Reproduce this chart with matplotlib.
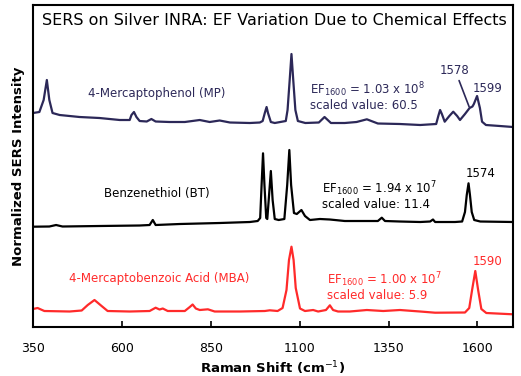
import matplotlib
matplotlib.use("Agg")
import matplotlib.pyplot as plt
import numpy as np
###############################################################################
""" Datos (leidos del grafico) """
###############################################################################
# 4-Mercaptophenol (MP)
mp_shift = [350, 368, 380, 389, 396, 405, 425, 481, 537, 594, 622, 627, 634,
            641, 650, 670, 683, 695, 734, 777, 819, 847, 875, 904, 960, 988,
            996, 1002, 1007, 1011, 1019, 1030, 1061, 1066, 1072, 1077, 1082,
            1088, 1095, 1116, 1154, 1170, 1188, 1227, 1260, 1289, 1320, 1382,
            1439, 1484, 1490, 1495, 1500, 1508, 1521, 1532, 1543, 1551, 1565,
            1578, 1586, 1590, 1599, 1607, 1613, 1624, 1663, 1700]
mp_int = [17, 18, 30, 50, 30, 17, 15, 13, 12, 10, 10, 15, 18,
          13, 9, 8.5, 11, 8.5, 8, 8, 10, 8, 9.5, 7.5, 7, 7.5,
          9, 17, 23, 17, 8, 7, 9, 20, 50, 76, 50,
          20, 9, 7, 7.5, 13, 7, 7, 8, 10.7, 6.5, 6,
          5, 6, 14, 20, 16, 8.3, 14, 18.3, 14, 10, 16,
          22, 23.5, 26, 34, 22, 8.3, 5, 4, 3]

# Benzenethiol (BT)
bt_shift = [350, 396, 415, 433, 537, 650, 678, 687, 695, 763, 875, 960, 982,
            989, 993, 997, 1001, 1006, 1009, 1013, 1019, 1024, 1030, 1041,
            1057, 1065, 1071, 1076, 1084, 1092, 1105, 1115, 1129, 1157, 1185,
            1227, 1270, 1320, 1331, 1340, 1382, 1439, 1467, 1475, 1481, 1537,
            1557, 1565, 1570, 1575, 1579, 1584, 1591, 1608, 1700]
bt_int = [3.3, 3.5, 5, 3.5, 4, 4.5, 5, 10, 5, 6, 7, 8, 9,
          12, 45, 76.7, 45, 12, 11, 30, 59, 30, 11, 10,
          11, 45, 80, 45, 17, 16, 20, 14, 10, 11, 10.5,
          9, 9, 9, 12.3, 9, 8.5, 8, 8.5, 10.5, 8, 8,
          8.5, 18, 35, 46.7, 35, 18, 10, 8.5, 8]

# 4-Mercaptobenzoic Acid (MBA)
mba_shift = [350, 363, 382, 453, 487, 504, 523, 543, 560, 622, 678, 695, 706,
             715, 729, 777, 791, 799, 808, 819, 842, 861, 932, 1002, 1016,
             1038, 1052, 1063, 1070, 1077, 1083, 1089, 1101, 1115, 1138, 1152,
             1174, 1185, 1194, 1208, 1241, 1289, 1335, 1382, 1439, 1481, 1565,
             1577, 1585, 1594, 1602, 1611, 1625, 1700]
mba_int = [6, 7, 4, 3.5, 4.5, 10, 15, 9, 4, 3.5, 4, 7.3, 5.5,
           6.5, 4, 4, 8, 10.5, 6.5, 5, 5.7, 3.5, 3.5, 4, 4.7,
           4, 7, 25, 55, 68.3, 55, 27, 6.5, 4, 5, 3.5,
           5, 9.7, 5, 3.5, 3.5, 5, 4, 5, 3.5, 2.3, 2.5,
           7, 25, 44, 25, 6, 2, 0.7]

# desplazamiento vertical de cada espectro
offsets = [197, 97, 12]
colores = ["#2c2858", "black", "#ff2a2a"]
xticks = [350, 600, 850, 1100, 1350, 1600]
###############################################################################
""" Ploteo """
###############################################################################
fig = plt.figure(figsize=(5.21, 3.76), dpi=100)
ax = fig.add_axes([0.0633, 0.1303, 0.9213, 0.8564])

ax.plot(mp_shift, np.array(mp_int) + offsets[0], color=colores[0], lw=1.6)
ax.plot(bt_shift, np.array(bt_int) + offsets[1], color=colores[1], lw=1.6)
ax.plot(mba_shift, np.array(mba_int) + offsets[2], color=colores[2], lw=1.6)

ax.set_xlim(350, 1700)
ax.set_ylim(0, 322)
ax.set_xticks(xticks)
ax.set_yticks([])
ax.tick_params(axis="x", direction="in", length=4, width=1.2, labelsize=9,
               pad=11)
for s in ax.spines.values():
    s.set_linewidth(1.5)

ax.set_xlabel("Raman Shift (cm$^{-1}$)", fontsize=9.5, fontweight="bold",
              labelpad=3)
ax.set_ylabel("Normalized SERS Intensity", fontsize=9.5, fontweight="bold",
              labelpad=6)

ax.text(0.502, 0.953, "SERS on Silver INRA: EF Variation Due to Chemical Effects",
        transform=ax.transAxes, ha="center", va="center", fontsize=11.5)

# etiquetas MP
ax.text(698, 234, "4-Mercaptophenol (MP)", color=colores[0], fontsize=8.5,
        ha="center", va="center")
ax.text(1129, 230.5, "EF$_{1600}$ = 1.03 x 10$^{8}$\nscaled value: 60.5",
        color=colores[0], fontsize=8.5, ha="left", va="center",
        linespacing=1.0)
ax.annotate("1578", xy=(1578, 22 + offsets[0]), xytext=(1537, 257),
            color=colores[0], fontsize=8.5, ha="center", va="center",
            arrowprops=dict(arrowstyle="-", color=colores[0], lw=1.2,
                            shrinkA=1, shrinkB=1))
ax.text(1630, 239, "1599", color=colores[0], fontsize=8.5, ha="center",
        va="center")

# etiquetas BT
ax.text(698, 134, "Benzenethiol (BT)", color="black", fontsize=8.5,
        ha="center", va="center")
ax.text(1162, 132, "EF$_{1600}$ = 1.94 x 10$^{7}$\nscaled value: 11.4",
        color="black", fontsize=8.5, ha="left", va="center",
        linespacing=1.0)
ax.text(1608, 154, "1574", color="black", fontsize=8.5, ha="center",
        va="center")

# etiquetas MBA
ax.text(704, 49, "4-Mercaptobenzoic Acid (MBA)", color=colores[2],
        fontsize=8.5, ha="center", va="center")
ax.text(1176, 41, "EF$_{1600}$ = 1.00 x 10$^{7}$\nscaled value: 5.9",
        color=colores[2], fontsize=8.5, ha="left", va="center",
        linespacing=1.0)
ax.text(1628, 66, "1590", color=colores[2], fontsize=8.5, ha="center",
        va="center")

fig.savefig("out.png", dpi=100)
